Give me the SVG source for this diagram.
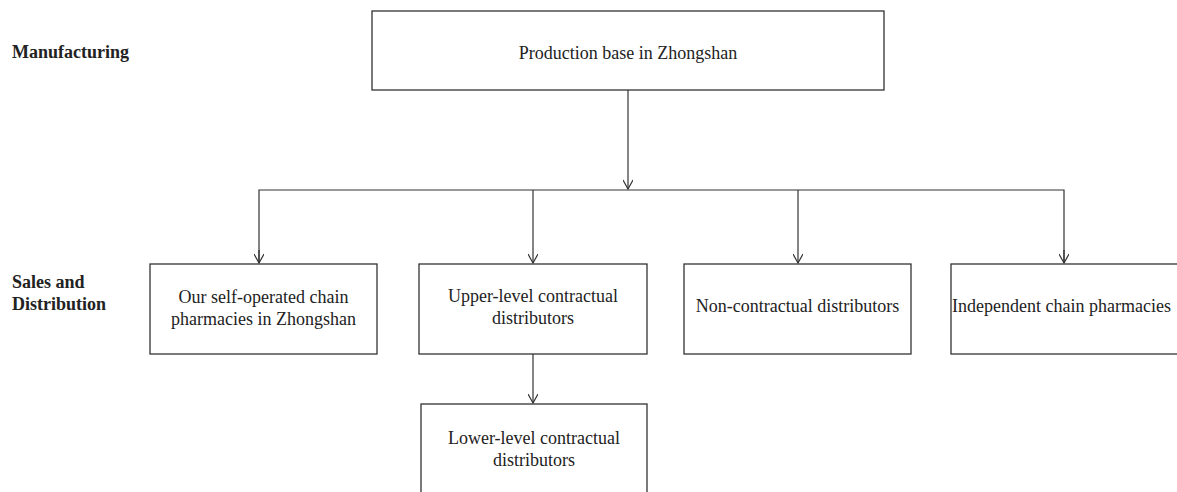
<svg xmlns="http://www.w3.org/2000/svg" width="1177" height="492" viewBox="0 0 1177 492">
<style>
.box{fill:#fff;stroke:#333;stroke-width:1.3}
.t{font-family:"Liberation Serif","Times New Roman",serif;font-size:18px;fill:#222}
.c{text-anchor:middle}
.b{font-weight:bold}
.ln{fill:none;stroke:#333;stroke-width:1.2}
</style>
<defs>
<marker id="ah" markerWidth="12" markerHeight="10" refX="10" refY="5" orient="auto" markerUnits="userSpaceOnUse">
<path d="M1,0 L10,5 L1,10" fill="none" stroke="#333" stroke-width="1.2"/>
</marker>
</defs>
<rect width="1177" height="492" fill="#fff"/>
<g id="labels">
<text class="t b" x="12" y="58">Manufacturing</text>
<text class="t b" x="12" y="288">Sales and</text>
<text class="t b" x="12" y="310">Distribution</text>
</g>
<g id="connectors">
<line class="ln" x1="628" y1="90" x2="628" y2="189" marker-end="url(#ah)"/>
<polyline class="ln" points="259,263 259,190 1064,190 1064,263"/>
<line class="ln" x1="259" y1="250" x2="259" y2="263" marker-end="url(#ah)"/>
<line class="ln" x1="533" y1="190" x2="533" y2="263" marker-end="url(#ah)"/>
<line class="ln" x1="798" y1="190" x2="798" y2="263" marker-end="url(#ah)"/>
<line class="ln" x1="1064" y1="250" x2="1064" y2="263" marker-end="url(#ah)"/>
<line class="ln" x1="533" y1="354" x2="533" y2="403" marker-end="url(#ah)"/>
</g>
<g id="n-production">
<rect class="box" x="372" y="11" width="512" height="79"/>
<text class="t c" x="628" y="59">Production base in Zhongshan</text>
</g>
<g id="n-self">
<rect class="box" x="150" y="264" width="227" height="90"/>
<text class="t c" x="263.5" y="303">Our self-operated chain</text>
<text class="t c" x="263.5" y="325">pharmacies in Zhongshan</text>
</g>
<g id="n-upper">
<rect class="box" x="419" y="264" width="228" height="90"/>
<text class="t c" x="533" y="302">Upper-level contractual</text>
<text class="t c" x="533" y="324">distributors</text>
</g>
<g id="n-non">
<rect class="box" x="684" y="264" width="227" height="90"/>
<text class="t c" x="797.5" y="312">Non-contractual distributors</text>
</g>
<g id="n-independent">
<rect class="box" x="951" y="264" width="240" height="90"/>
<text class="t" x="952" y="312">Independent chain pharmacies</text>
</g>
<g id="n-lower">
<rect class="box" x="421" y="404" width="226" height="100"/>
<text class="t c" x="534" y="444">Lower-level contractual</text>
<text class="t c" x="534" y="466">distributors</text>
</g>
</svg>
